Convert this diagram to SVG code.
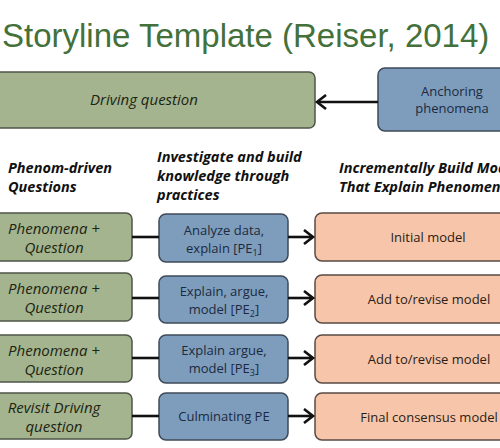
<svg xmlns="http://www.w3.org/2000/svg" width="500" height="448" viewBox="0 0 500 448">
<defs>
<marker id="arr" markerUnits="userSpaceOnUse" markerWidth="14" markerHeight="16" refX="11" refY="8" orient="auto">
<path d="M2,1 L11,8 L2,15" fill="none" stroke="#111" stroke-width="2.6"/>
</marker>
<style>
.g{fill:#a4b48e;stroke:#4f5548;stroke-width:1.5}
.b{fill:#7e9dbd;stroke:#3e4a58;stroke-width:1.5}
.s{fill:#f7c5aa;stroke:#5a4a44;stroke-width:1.5}
.t{font-family:"Open Sans","Liberation Sans",sans-serif;text-anchor:middle}
.gt{font-size:15px;font-style:italic;fill:#1c2414}
.bt{font-size:13px;fill:#1b2a40}
.st{font-size:13px;fill:#2a1d16}
.h{font-family:"Open Sans","Liberation Sans",sans-serif;font-size:14.5px;font-weight:bold;font-style:italic;fill:#111}
.c{stroke:#111;stroke-width:2.6;fill:none}
</style>
</defs>
<rect width="500" height="448" fill="#ffffff"/>
<text x="2" y="47" font-family="Liberation Sans, Arial, sans-serif" font-size="33" fill="#44703a">Storyline Template (Reiser, 2014)</text>

<g id="driving">
<rect class="g" x="-10" y="72" width="325" height="56" rx="6"/>
<text class="t gt" x="144" y="105" font-size="14">Driving question</text>
</g>
<g id="anchoring">
<rect class="b" x="378" y="68" width="140" height="63" rx="7"/>
<text class="t bt" x="452" y="96">Anchoring</text>
<text class="t bt" x="452" y="113">phenomena</text>
</g>

<g id="headers">
<text class="h" x="8" y="173">Phenom-driven</text>
<text class="h" x="8" y="192">Questions</text>
<text class="h" x="157" y="162">Investigate and build</text>
<text class="h" x="157" y="181">knowledge through</text>
<text class="h" x="157" y="200">practices</text>
<text class="h" x="339" y="173">Incrementally Build Models</text>
<text class="h" x="339" y="192">That Explain Phenomena</text>
</g>

<g id="q1"><rect class="g" x="-10" y="213" width="142" height="48" rx="6"/>
<text class="t gt" x="54" y="234">Phenomena +</text><text class="t gt" x="54" y="253">Question</text></g>
<g id="q2"><rect class="g" x="-10" y="273" width="142" height="48" rx="6"/>
<text class="t gt" x="54" y="294">Phenomena +</text><text class="t gt" x="54" y="313">Question</text></g>
<g id="q3"><rect class="g" x="-10" y="335" width="142" height="47" rx="6"/>
<text class="t gt" x="54" y="356">Phenomena +</text><text class="t gt" x="54" y="375">Question</text></g>
<g id="q4"><rect class="g" x="-10" y="393" width="142" height="46" rx="6"/>
<text class="t gt" x="54" y="413">Revisit Driving</text><text class="t gt" x="54" y="432">question</text></g>

<g id="p1"><rect class="b" x="159" y="214" width="129" height="48" rx="7"/>
<text class="t bt" x="224" y="235">Analyze data,</text><text class="t bt" x="224" y="253">explain [PE<tspan font-size="9" dy="3">1</tspan><tspan dy="-3">]</tspan></text></g>
<g id="p2"><rect class="b" x="159" y="276" width="129" height="47" rx="7"/>
<text class="t bt" x="224" y="296">Explain, argue,</text><text class="t bt" x="224" y="314">model [PE<tspan font-size="9" dy="3">2</tspan><tspan dy="-3">]</tspan></text></g>
<g id="p3"><rect class="b" x="159" y="335" width="129" height="48" rx="7"/>
<text class="t bt" x="224" y="355">Explain argue,</text><text class="t bt" x="224" y="373">model [PE<tspan font-size="9" dy="3">3</tspan><tspan dy="-3">]</tspan></text></g>
<g id="p4"><rect class="b" x="159" y="393" width="129" height="47" rx="7"/>
<text class="t bt" x="224" y="421">Culminating PE</text></g>

<g id="m1"><rect class="s" x="315" y="213" width="230" height="48" rx="7"/>
<text class="t st" x="428" y="242">Initial model</text></g>
<g id="m2"><rect class="s" x="315" y="275" width="230" height="48" rx="7"/>
<text class="t st" x="429" y="304">Add to/revise model</text></g>
<g id="m3"><rect class="s" x="315" y="335" width="230" height="48" rx="7"/>
<text class="t st" x="429" y="364">Add to/revise model</text></g>
<g id="m4"><rect class="s" x="315" y="393" width="230" height="47" rx="7"/>
<text class="t st" x="429" y="422">Final consensus model</text></g>

<g id="connectors">
<line class="c" x1="378" y1="102" x2="317" y2="102" marker-end="url(#arr)"/>
<line class="c" x1="132" y1="237" x2="159" y2="237"/>
<line class="c" x1="132" y1="298" x2="159" y2="298"/>
<line class="c" x1="132" y1="358" x2="159" y2="358"/>
<line class="c" x1="132" y1="416" x2="159" y2="416"/>
<line class="c" x1="288" y1="237" x2="313" y2="237" marker-end="url(#arr)"/>
<line class="c" x1="288" y1="298" x2="313" y2="298" marker-end="url(#arr)"/>
<line class="c" x1="288" y1="358" x2="313" y2="358" marker-end="url(#arr)"/>
<line class="c" x1="288" y1="416" x2="313" y2="416" marker-end="url(#arr)"/>
</g>
</svg>
